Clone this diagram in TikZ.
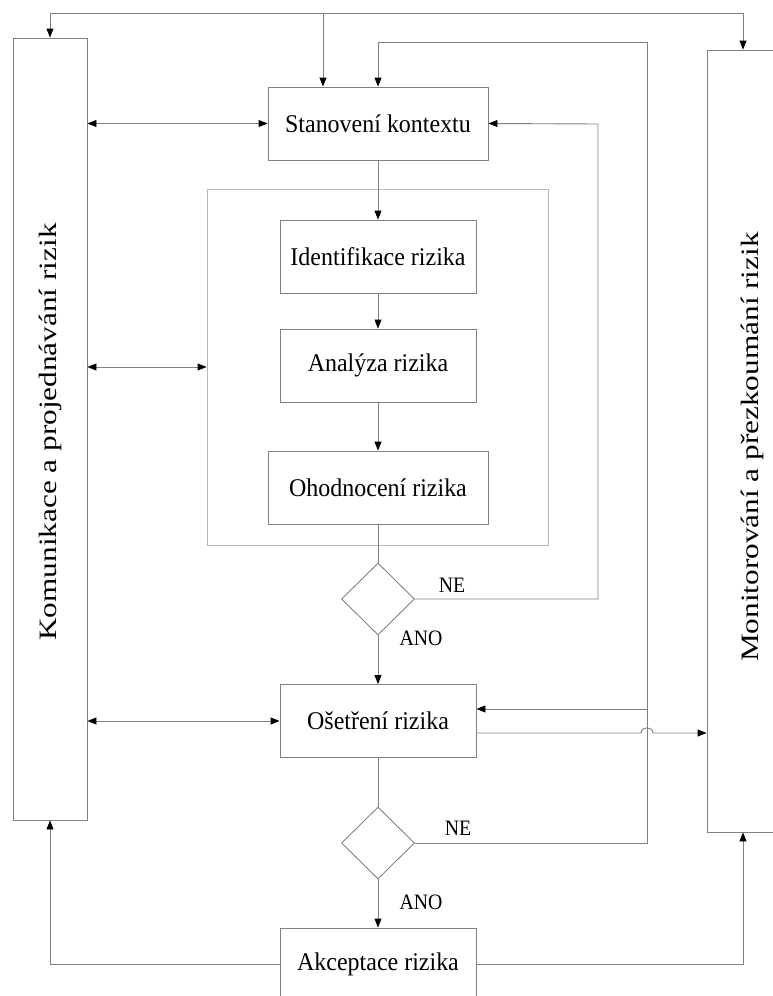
\documentclass[tikz,border=0pt]{standalone}
\usepackage{fontspec}
\setmainfont{Liberation Serif}
\usetikzlibrary{arrows.meta,shapes.geometric,calc}
\definecolor{linegray}{HTML}{808080}
\definecolor{framegray}{HTML}{B8B8B8}
% condensed and stretched lettering
\newcommand\condensedtext[2][0.94]{\scalebox{#1}[1]{#2}}
\begin{document}
\begin{tikzpicture}[x=1pt,y=-1pt,
  line width=0.9pt,
  box/.style={draw=linegray, minimum width=196pt, minimum height=73pt, inner sep=0pt,
    font=\fontsize{25.5}{30}\selectfont},
  widebox/.style={box, minimum width=220pt},
  sidebox/.style={draw=linegray, minimum width=74pt, minimum height=782pt, inner sep=0pt},
  sidetext/.style={rotate=90, font=\fontsize{25}{30}\selectfont, inner sep=0pt},
  decision/.style={draw=linegray, diamond, minimum width=73pt, minimum height=72pt, inner sep=0pt},
  flow/.style={draw=linegray},
  tip/.tip={Triangle[length=9pt,width=7pt,color=black,fill=black]},
  arr/.style={flow, -tip},
  darr/.style={flow, tip-tip},
  tag/.style={font=\fontsize{22}{26}\selectfont, inner sep=0pt}
]
\useasboundingbox (0,0) rectangle (773,996);

% side panels
\node[sidebox] (left) at (50,429) {};
\node[sidetext] (lefttext) at (50,432) {\condensedtext[1.25]{Komunikace a projednávání rizik}};
\node[sidebox, minimum width=72pt] (right) at (743,441) {};
\node[sidetext] (righttext) at (752,447) {\condensedtext[1.25]{Monitorování a přezkoumání rizik}};

% main process
\node[widebox] (stan) at (378,123.5) {\condensedtext{Stanovení kontextu}};
\node[draw=framegray, minimum width=341pt, minimum height=356pt, inner sep=0pt] (frame) at (377.5,367) {};
\node[box] (ident) at (378,256.5) {\condensedtext{Identifikace rizika}};
\node[box] (anal) at (378,365.5) {\condensedtext{Analýza rizika}};
\node[widebox] (ohod) at (378,487.5) {\condensedtext{Ohodnocení rizika}};
\node[decision] (d1) at (378,599) {};
\node[box] (oset) at (378,721) {\condensedtext{Ošetření rizika}};
\node[decision] (d2) at (378,843) {};
\node[box, minimum height=72pt] (akc) at (378,964) {\condensedtext{Akceptace rizika}};

% decision labels
\node[tag] (ne1) at (452,585) {\condensedtext[0.9]{NE}};
\node[tag] (ano1) at (421,638) {\condensedtext[0.9]{ANO}};
\node[tag] (ne2) at (458,828) {\condensedtext[0.9]{NE}};
\node[tag] (ano2) at (421,902) {\condensedtext[0.9]{ANO}};

% distribution line along the top
\coordinate (top) at (323,13);
\draw[arr] (top) -- (top |- stan.north);
\draw[arr] (top) -| (left.north);
\draw[arr] (top) -| (right.north);

% feedback loops
\coordinate (loopA) at (598,124);
\draw[arr] (d1.east) -| (loopA) -- (stan.east);
\coordinate (loopB) at (647,42);
\draw[arr] (d2.east) -| (loopB) -| (stan.north);
\coordinate (tap) at (647,709);
\draw[arr] (tap) -- (tap -| oset.east);

% main flow
\draw[arr] (stan.south) -- (ident.north);
\draw[arr] (ident.south) -- (anal.north);
\draw[arr] (anal.south) -- (ohod.north);
\draw[flow] (ohod.south) -- (d1.north);
\draw[arr] (d1.south) -- (oset.north);
\draw[flow] (oset.south) -- (d2.north);
\draw[arr] (d2.south) -- (akc.north);

% communication links
\draw[darr] (left.east |- stan.west) -- (stan.west);
\draw[darr] (left.east |- frame.west) -- (frame.west);
\draw[darr] (left.east |- oset.west) -- (oset.west);

% output to monitoring, hopping over the loop line
\coordinate (os) at ($(oset.east)+(0,12)$);
\draw[arr] (os) -- ($(os -| loopB)+(-6,0)$)
  .. controls +(0,-7) and +(0,-7) .. ($(os -| loopB)+(6,0)$) -- (os -| right.west);

% acceptance outputs
\draw[arr] (akc.east) -| (right.south);
\draw[arr] (akc.west) -| (left.south);
\end{tikzpicture}
\end{document}
